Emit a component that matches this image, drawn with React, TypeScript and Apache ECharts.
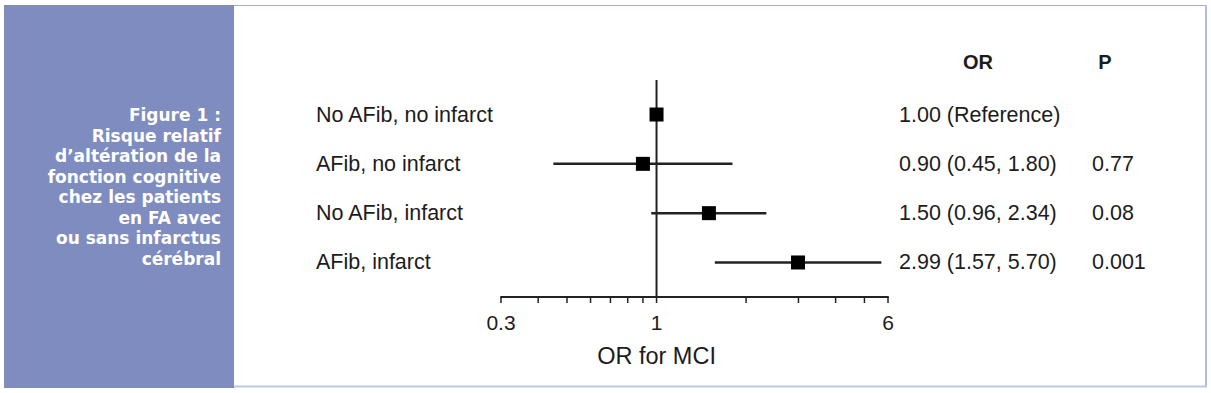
import React, { useEffect, useRef } from "react";
import * as echarts from "echarts";

const categories = ["No AFib, no infarct", "AFib, no infarct", "No AFib, infarct", "AFib, infarct"];
const orValues = [1.0, 0.9, 1.5, 2.99];
const ciLow: (number | null)[] = [null, 0.45, 0.96, 1.57];
const ciHigh: (number | null)[] = [null, 1.8, 2.34, 5.7];
const orTexts = ["1.00 (Reference)", "0.90 (0.45, 1.80)", "1.50 (0.96, 2.34)", "2.99 (1.57, 5.70)"];
const pTexts = ["", "0.77", "0.08", "0.001"];
const majorTicks = [0.3, 1, 6];
const minorTicks = [0.4, 0.5, 0.6, 0.7, 0.8, 0.9, 2, 3, 4, 5];
const axisTitle = "OR for MCI";
const headerOR = "OR";
const headerP = "P";
const figureTitleLines = [
  "Figure 1 :",
  "Risque relatif",
  "d’altération de la",
  "fonction cognitive",
  "chez les patients",
  "en FA avec",
  "ou sans infarctus",
  "cérébral",
];

const TXT = "#1c1c1c";
const FONT = '"Liberation Sans", Arial, sans-serif';

export default function App() {
  const ref = useRef<HTMLDivElement>(null);
  useEffect(() => {
    if (!ref.current) return;
    const chart = echarts.init(ref.current, undefined, { renderer: "svg" });
    const Y_MIN = -0.7;
    const Y_MAX = 3.7;

    const forestData = orValues.map((v, i) => [v, i]);
    const tickData = [
      ...majorTicks.map((v) => [v, Y_MAX, 1]),
      ...minorTicks.map((v) => [v, Y_MAX, 0]),
    ];

    const titleGraphics = figureTitleLines.map((line, k) => ({
      type: "text",
      x: 221,
      y: 115 + k * 20.5,
      style: {
        text: line,
        fill: "#ffffff",
        font: 'bold 17px "DejaVu Sans", sans-serif',
        textAlign: "right",
        textVerticalAlign: "middle",
      },
    }));

    chart.setOption({
      animation: false,
      grid: { left: 501, width: 387, top: 80, height: 217 },
      xAxis: {
        type: "log",
        logBase: 10,
        min: 0.3,
        max: 6,
        position: "bottom",
        axisLine: { show: true, onZero: false, lineStyle: { color: "#222", width: 2 } },
        axisTick: { show: false },
        axisLabel: { show: false },
        splitLine: { show: false },
      },
      yAxis: {
        type: "value",
        min: Y_MIN,
        max: Y_MAX,
        inverse: true,
        show: false,
      },
      graphic: [
        { type: "rect", shape: { x: 4, y: 5, width: 230, height: 383 }, style: { fill: "#7f8cbf" } },
        { type: "line", shape: { x1: 234, y1: 5.5, x2: 1207, y2: 5.5 }, style: { stroke: "#a3acd6", lineWidth: 1 } },
        { type: "line", shape: { x1: 1206, y1: 5, x2: 1206, y2: 387 }, style: { stroke: "#b3bce3", lineWidth: 2 } },
        { type: "line", shape: { x1: 234, y1: 386.5, x2: 1207, y2: 386.5 }, style: { stroke: "#bfc6e6", lineWidth: 2 } },
        ...titleGraphics,
      ],
      series: [
        {
          type: "custom",
          name: "axisDecor",
          data: tickData,
          encode: { x: 0, y: 1 },
          silent: true,
          renderItem: (params: any, api: any) => {
            const p = api.coord([api.value(0), api.value(1)]);
            const children: any[] = [
              { type: "line", shape: { x1: p[0], y1: p[1], x2: p[0], y2: p[1] + 6 }, style: { stroke: "#222", lineWidth: 1.5 } },
            ];
            if (api.value(2) === 1) {
              const v = api.value(0);
              children.push({
                type: "text",
                x: p[0],
                y: p[1] + 25,
                style: { text: String(v), fill: TXT, font: `21px ${FONT}`, textAlign: "center", textVerticalAlign: "middle" },
              });
              if (v === 1) {
                const top = api.coord([1, Y_MIN]);
                children.push({ type: "line", shape: { x1: p[0], y1: top[1], x2: p[0], y2: p[1] }, style: { stroke: "#222", lineWidth: 2 } });
                children.push({
                  type: "text",
                  x: p[0],
                  y: p[1] + 59,
                  style: { text: axisTitle, fill: TXT, font: `23.5px ${FONT}`, textAlign: "center", textVerticalAlign: "middle" },
                });
              }
            }
            return { type: "group", children };
          },
        },
        {
          type: "custom",
          name: "forest",
          data: forestData,
          encode: { x: 0, y: 1 },
          silent: true,
          renderItem: (params: any, api: any) => {
            const i = params.dataIndex;
            const c = api.coord([api.value(0), api.value(1)]);
            const children: any[] = [];
            const lo = ciLow[i];
            const hi = ciHigh[i];
            if (lo != null && hi != null) {
              const a = api.coord([lo, i]);
              const b = api.coord([hi, i]);
              children.push({ type: "line", shape: { x1: a[0], y1: c[1], x2: b[0], y2: c[1] }, style: { stroke: "#222", lineWidth: 2.5 } });
            }
            children.push({ type: "rect", shape: { x: c[0] - 7, y: c[1] - 7, width: 14, height: 14 }, style: { fill: "#000" } });
            children.push({
              type: "text",
              x: 316,
              y: c[1],
              style: { text: categories[i], fill: TXT, font: `21.5px ${FONT}`, textAlign: "left", textVerticalAlign: "middle" },
            });
            children.push({
              type: "text",
              x: 899,
              y: c[1],
              style: { text: orTexts[i], fill: TXT, font: `21.5px ${FONT}`, textAlign: "left", textVerticalAlign: "middle" },
            });
            if (pTexts[i]) {
              children.push({
                type: "text",
                x: 1092,
                y: c[1],
                style: { text: pTexts[i], fill: TXT, font: `21.5px ${FONT}`, textAlign: "left", textVerticalAlign: "middle" },
              });
            }
            if (i === 0) {
              children.push({
                type: "text",
                x: 978,
                y: 62,
                style: { text: headerOR, fill: TXT, font: `bold 20px ${FONT}`, textAlign: "center", textVerticalAlign: "middle" },
              });
              children.push({
                type: "text",
                x: 1105,
                y: 62,
                style: { text: headerP, fill: TXT, font: `bold 20px ${FONT}`, textAlign: "center", textVerticalAlign: "middle" },
              });
            }
            return { type: "group", children };
          },
        },
      ],
    });
    return () => chart.dispose();
  }, []);
  return <div ref={ref} style={{ position: "absolute", left: 0, top: 0, width: 1211, height: 393 }} />;
}
